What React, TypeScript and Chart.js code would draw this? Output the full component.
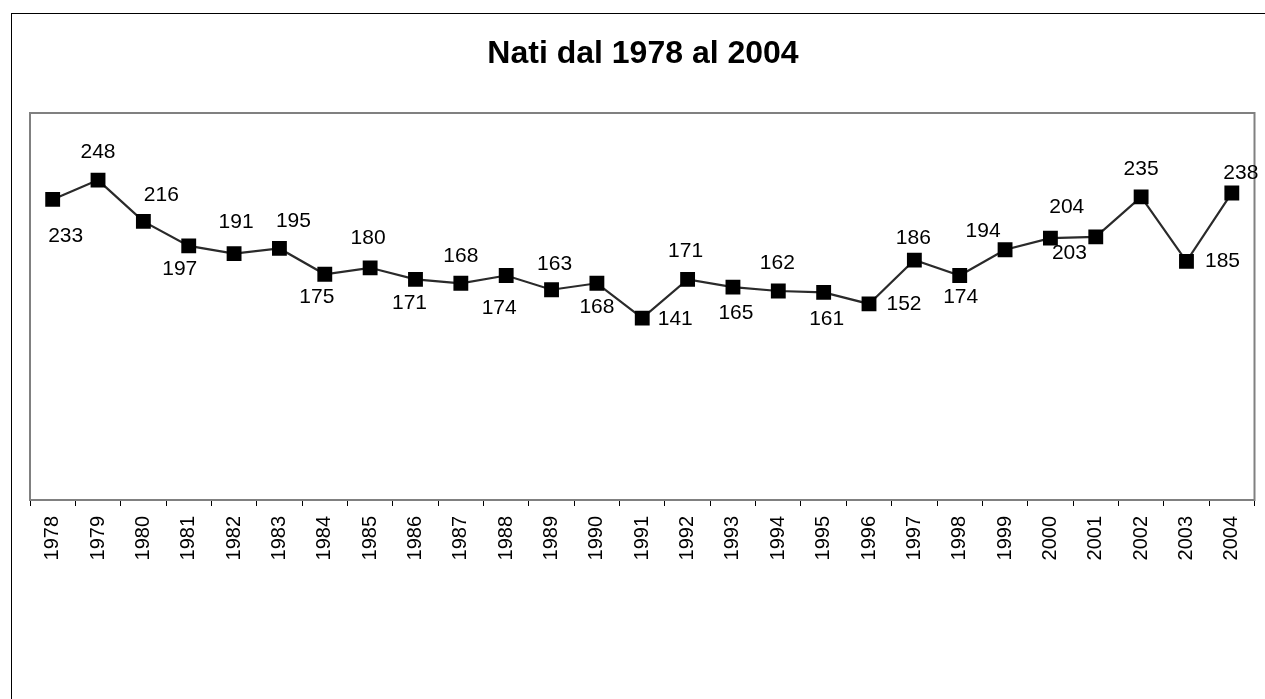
import React, { useEffect, useRef } from "react";
import { Chart, registerables } from "chart.js";

Chart.register(...registerables);

const TITLE = "Nati dal 1978 al 2004";
const YEARS = [
  "1978", "1979", "1980", "1981", "1982", "1983", "1984", "1985", "1986",
  "1987", "1988", "1989", "1990", "1991", "1992", "1993", "1994", "1995",
  "1996", "1997", "1998", "1999", "2000", "2001", "2002", "2003", "2004",
];
const BIRTHS = [
  233, 248, 216, 197, 191, 195, 175, 180, 171,
  168, 174, 163, 168, 141, 171, 165, 162, 161,
  152, 186, 174, 194, 203, 204, 235, 185, 238,
];
// label placement relative to the marker (style only)
const LABEL_DX = [13, 0, 18, -9, 2, 14, -8, -2, -6, 0, -7, 3, 0, 33, -2, 3, -1, 3, 35, -1, 1, -22, 19, -29, 0, 36, 9];
const LABEL_DY = [37, -28, -26, 23, -31, -27, 23, -30, 24, -27, 33, -26, 24, 1, -28, 26, -28, 27, 0, -22, 22, -19, 15, -30, -28, 0, -20];

const FONT = "'Liberation Sans', Arial, sans-serif";

export default function App() {
  const ref = useRef<HTMLCanvasElement | null>(null);
  useEffect(() => {
    if (!ref.current) return;
    const decor = {
      id: "decor",
      beforeDatasetsDraw(chart: any) {
        const { ctx, chartArea } = chart;
        ctx.save();
        ctx.strokeStyle = "#808080";
        ctx.lineWidth = 2;
        ctx.strokeRect(chartArea.left, chartArea.top, chartArea.right - chartArea.left, chartArea.bottom - chartArea.top);
        ctx.restore();
      },
      afterDraw(chart: any) {
        const { ctx } = chart;
        ctx.save();
        ctx.strokeStyle = "#000";
        ctx.lineWidth = 1;
        ctx.strokeRect(11.5, 13.5, 1400, 1000);
        ctx.fillStyle = "#000";
        ctx.font = `bold 32px ${FONT}`;
        ctx.textAlign = "center";
        ctx.textBaseline = "middle";
        ctx.fillText(TITLE, 643, 54);
        ctx.font = `21px ${FONT}`;
        const meta = chart.getDatasetMeta(0);
        meta.data.forEach((pt: any, i: number) => {
          ctx.fillText(String(BIRTHS[i]), pt.x + LABEL_DX[i], pt.y + LABEL_DY[i]);
        });
        ctx.restore();
      },
    };
    const chart = new Chart(ref.current, {
      type: "line",
      data: {
        labels: YEARS,
        datasets: [
          {
            data: BIRTHS,
            borderColor: "#2a2a2a",
            borderWidth: 2.2,
            pointStyle: "rect",
            pointRadius: 10.5,
            pointBackgroundColor: "#000",
            pointBorderColor: "#000",
            pointBorderWidth: 0,
            tension: 0,
          },
        ],
      },
      options: {
        responsive: false,
        animation: false,
        layout: { padding: { top: 113, left: 30, right: 5, bottom: 0 } },
        plugins: { legend: { display: false }, title: { display: false }, tooltip: { enabled: false } },
        scales: {
          x: {
            offset: true,
            grid: { offset: true, drawOnChartArea: false, drawTicks: true, tickLength: 6, color: "#000" },
            border: { display: true, color: "#000", width: 1 },
            ticks: {
              color: "#000",
              font: { family: FONT, size: 20 },
              minRotation: 90,
              maxRotation: 90,
              padding: 10,
              autoSkip: false,
            },
            afterFit: (scale: any) => {
              scale.height = 199;
              scale.paddingLeft = 0;
              scale.paddingRight = 0;
            },
          },
          y: { display: false, min: 0, max: 300 },
        },
      },
      plugins: [decor],
    });
    return () => chart.destroy();
  }, []);
  return (
    <div style={{ position: "fixed", left: 0, top: 0, width: 1265, height: 699, background: "#fff" }}>
      <canvas ref={ref} width={1265} height={699} style={{ display: "block" }} />
    </div>
  );
}
